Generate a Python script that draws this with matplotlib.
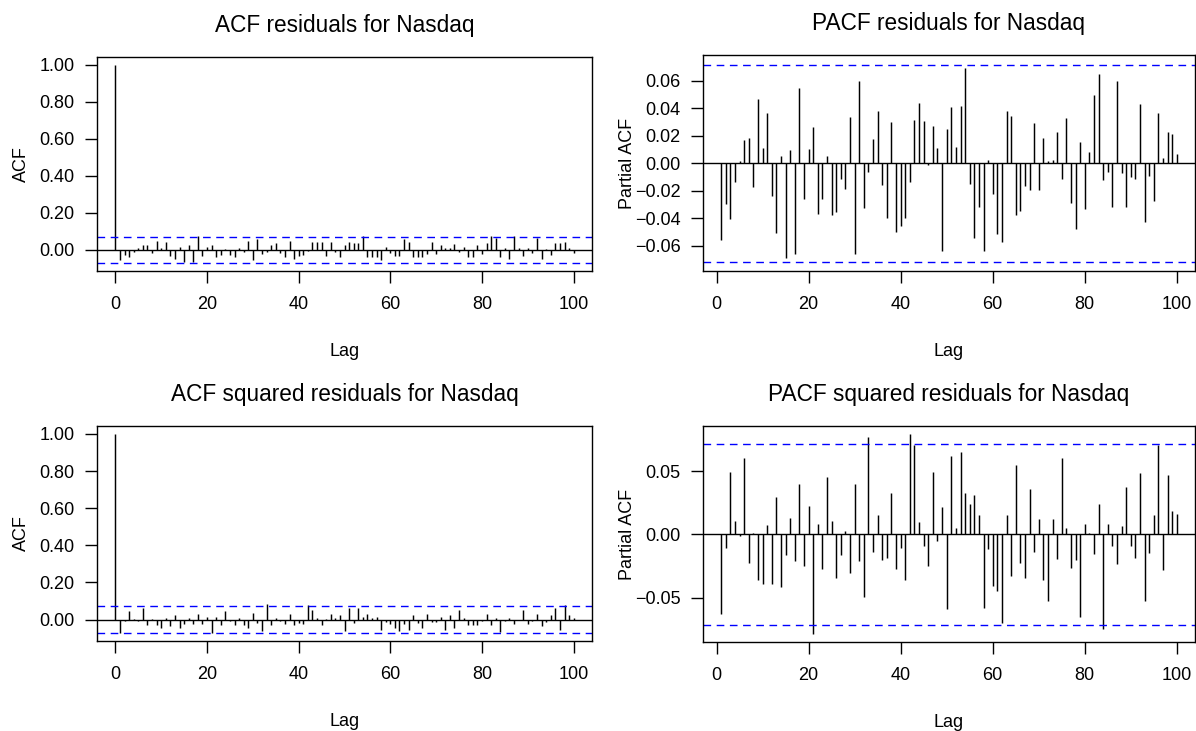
import numpy as np
import matplotlib
matplotlib.use("Agg")
import matplotlib.pyplot as plt

plt.rcParams['font.family'] = ['Liberation Sans', 'DejaVu Sans']

# lags 1..100
lags = np.arange(1, 101)

acf_res = [-0.057, -0.027, -0.036, -0.009, 0.011, 0.027, 0.027, -0.018, 0.048, 0.009,
           0.041, -0.032, -0.050, 0.018, -0.063, 0.025, -0.063, 0.077, -0.032, 0.014,
           0.025, -0.039, -0.027, 0.004, -0.027, -0.039, 0.009, -0.013, 0.048, -0.054,
           0.057, -0.023, -0.013, 0.025, 0.036, -0.018, -0.039, 0.048, -0.048, -0.032,
           -0.027, -0.004, 0.041, 0.041, 0.041, -0.032, 0.041, -0.009, -0.039, 0.027,
           0.041, 0.039, 0.039, 0.077, -0.036, -0.036, -0.036, -0.057, 0.018, -0.018,
           -0.032, -0.032, 0.057, 0.041, -0.036, -0.036, -0.036, -0.023, 0.041, -0.023,
           0.025, 0.011, 0.009, 0.032, -0.009, 0.018, -0.036, -0.036, 0.027, -0.023,
           0.036, 0.077, 0.063, -0.036, 0.011, -0.048, 0.077, 0.009, -0.032, 0.011,
           -0.018, 0.063, -0.048, 0.003, -0.027, 0.036, 0.036, 0.041, 0.009, -0.018]

pacf_res = [-0.0556, -0.0295, -0.0407, -0.0137, 0.0014, 0.0168, 0.0187, -0.0172, 0.0467, 0.0115,
            0.0366, -0.0235, -0.0508, 0.0055, -0.0690, 0.0096, -0.0659, 0.0549, -0.0256, 0.0105,
            0.0266, -0.0366, -0.0256, 0.0055, -0.0376, -0.0357, -0.0115, -0.0189, 0.0338, -0.0659,
            0.0599, -0.0326, -0.0065, 0.0177, 0.0378, -0.0156, -0.0395, 0.0299, -0.0496, -0.0455,
            -0.0395, -0.0134, 0.0316, 0.0438, 0.0309, -0.0010, 0.0268, 0.0115, -0.0637, 0.0247,
            0.0410, 0.0117, 0.0419, 0.0690, -0.0153, -0.0546, -0.0314, -0.0635, 0.0024, -0.0223,
            -0.0515, -0.0575, 0.0378, 0.0347, -0.0374, -0.0345, -0.0163, -0.0194, 0.0297, -0.0194,
            0.0187, 0.0014, 0.0026, 0.0228, -0.0113, 0.0328, -0.0285, -0.0474, 0.0156, -0.0335,
            0.0086, 0.0498, 0.0649, -0.0122, -0.0062, -0.0314, 0.0599, -0.0072, -0.0314, -0.0101,
            -0.0113, 0.0429, -0.0424, -0.0091, -0.0273, 0.0369, 0.0036, 0.0230, 0.0216, 0.0067]

acf_sq = [-0.072, -0.007, 0.047, 0.002, -0.007, 0.065, -0.030, 0.004, -0.030, -0.043,
          0.009, -0.032, 0.023, -0.048, -0.025, 0.009, -0.025, 0.032, -0.025, 0.014,
          -0.072, 0.014, -0.030, 0.047, -0.007, -0.030, 0.009, -0.030, -0.043, 0.038,
          -0.018, -0.063, 0.086, -0.030, 0.009, -0.007, -0.022, 0.032, -0.030, -0.018,
          -0.025, 0.077, 0.054, 0.009, -0.030, 0.003, 0.032, 0.009, 0.027, -0.063,
          0.065, -0.018, 0.065, 0.014, 0.032, 0.009, 0.014, -0.054, -0.013, -0.025,
          -0.048, -0.063, -0.025, -0.054, 0.023, -0.018, -0.043, 0.032, -0.013, -0.013,
          0.014, -0.054, 0.023, -0.048, 0.054, 0.009, -0.030, -0.030, -0.030, -0.007,
          0.032, -0.030, 0.009, -0.066, -0.007, 0.009, -0.022, -0.004, 0.054, -0.025,
          -0.007, 0.032, -0.036, -0.013, 0.023, 0.065, -0.054, 0.077, 0.027, 0.009]

pacf_sq = [-0.0624, -0.0103, 0.0495, 0.0108, -0.0013, 0.0605, -0.0224, 0.0013, -0.0361, -0.0392,
           0.0071, -0.0392, 0.0292, -0.0413, -0.0160, 0.0126, -0.0213, 0.0395, -0.0247, 0.0226,
           -0.0787, 0.0084, -0.0271, 0.0450, 0.0108, -0.0347, -0.0160, 0.0029, -0.0303, 0.0395,
           -0.0213, -0.0490, 0.0771, -0.0137, 0.0150, -0.0205, -0.0182, 0.0329, -0.0271, -0.0105,
           -0.0358, 0.0792, 0.0705, 0.0095, -0.0092, -0.0247, 0.0492, -0.0050, 0.0216, -0.0589,
           0.0616, 0.0050, 0.0647, 0.0329, 0.0237, 0.0313, 0.0150, -0.0576, -0.0113, -0.0403,
           -0.0445, -0.0700, 0.0150, -0.0324, 0.0547, -0.0224, -0.0347, 0.0360, -0.0137, 0.0118,
           -0.0358, -0.0521, 0.0118, -0.0192, 0.0603, 0.0053, -0.0268, -0.0205, -0.0647, 0.0084,
           0.0010, -0.0158, 0.0237, -0.0742, 0.0084, -0.0092, -0.0234, 0.0063, 0.0371, -0.0092,
           -0.0189, 0.0482, -0.0521, -0.0147, 0.0150, 0.0703, -0.0279, 0.0468, 0.0184, 0.0160]

ci = 0.0716

W, H = 1196, 731
fig = plt.figure(figsize=(W / 100, H / 100), dpi=100)


def px_axes(l, t, r, b):
    return fig.add_axes([l / W, 1 - b / H, (r - l) / W, (b - t) / H])


def style(ax, title, ylabel, width_px, height_px):
    ax.set_title(title, fontsize=16.3, pad=18)
    ax.set_xlabel('Lag', fontsize=13)
    ax.set_ylabel(ylabel, fontsize=13)
    ax.xaxis.set_label_coords(0.5, -72 / height_px)
    ax.yaxis.set_label_coords(-67 / width_px, 0.5)
    ax.set_xticks([0, 20, 40, 60, 80, 100])
    ax.tick_params(length=8.5, width=1, labelsize=13, direction='out')
    ax.tick_params(axis='x', pad=9.5)
    ax.tick_params(axis='y', pad=7.5)
    for s in ax.spines.values():
        s.set_linewidth(1)
        s.set_color('black')
    ax.axhline(0, color='black', lw=1)
    ax.axhline(ci, color='#0000ff', lw=1, ls=(0, (5.5, 4)))
    ax.axhline(-ci, color='#0000ff', lw=1, ls=(0, (5.5, 4)))


# ACF residuals
ax1 = px_axes(97, 57, 592, 271)
ax1.vlines(np.r_[0, lags], 0, np.r_[1.0, acf_res], color='black', lw=1.05)
ax1.set_xlim(-4, 104)
ax1.set_ylim(-0.114, 1.043)
ax1.set_yticks(np.arange(0, 1.01, 0.2))
ax1.yaxis.set_major_formatter('{x:.2f}')
style(ax1, 'ACF residuals for Nasdaq', 'ACF', 495, 214)

# PACF residuals
ax2 = px_axes(703, 55, 1195, 271)
ax2.vlines(lags, 0, pacf_res, color='black', lw=1.05)
ax2.set_xlim(-2.96, 103.96)
ax2.set_ylim(-0.0783, 0.0788)
ax2.set_yticks(np.arange(-0.06, 0.061, 0.02))
ax2.yaxis.set_major_formatter('{x:.2f}')
style(ax2, 'PACF residuals for Nasdaq', 'Partial ACF', 492, 216)

# ACF squared residuals
ax3 = px_axes(97, 426, 592, 641)
ax3.vlines(np.r_[0, lags], 0, np.r_[1.0, acf_sq], color='black', lw=1.05)
ax3.set_xlim(-4, 104)
ax3.set_ylim(-0.1154, 1.0429)
ax3.set_yticks(np.arange(0, 1.01, 0.2))
ax3.yaxis.set_major_formatter('{x:.2f}')
style(ax3, 'ACF squared residuals for Nasdaq', 'ACF', 495, 215)

# PACF squared residuals
ax4 = px_axes(703, 426, 1195, 642)
ax4.vlines(lags, 0, pacf_sq, color='black', lw=1.05)
ax4.set_xlim(-2.96, 103.96)
ax4.set_ylim(-0.0848, 0.0855)
ax4.set_yticks([-0.05, 0.0, 0.05])
ax4.yaxis.set_major_formatter('{x:.2f}')
style(ax4, 'PACF squared residuals for Nasdaq', 'Partial ACF', 492, 216)

fig.savefig('out.png', dpi=100)
